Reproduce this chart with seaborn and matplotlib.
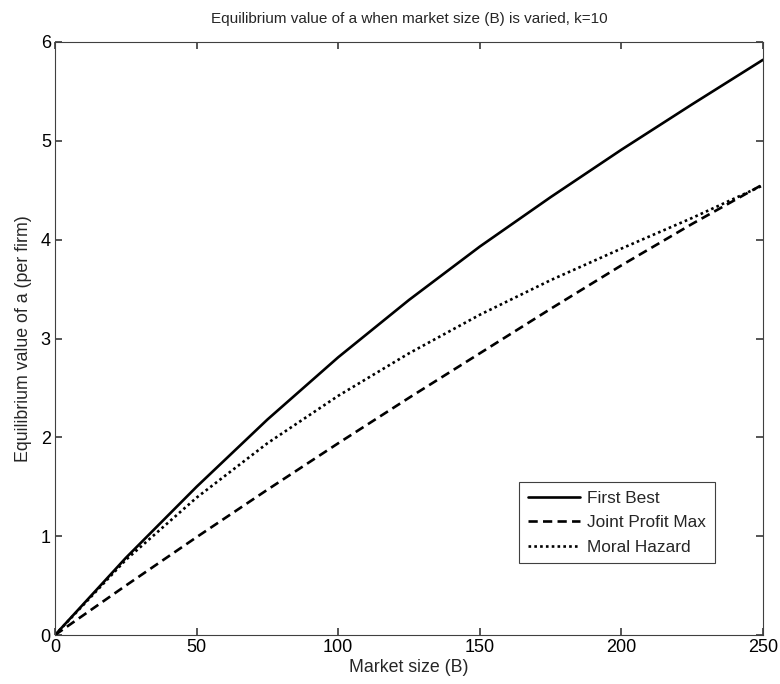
import matplotlib
matplotlib.use("Agg")
import matplotlib.pyplot as plt
import seaborn as sns
import pandas as pd
from matplotlib.lines import Line2D

market_size = [0, 25, 50, 75, 100, 125, 150, 175, 200, 225, 250]
first_best = [0.0, 0.78, 1.50, 2.18, 2.81, 3.39, 3.93, 4.43, 4.91, 5.37, 5.82]
joint_profit_max = [0.0, 0.50, 0.99, 1.47, 1.94, 2.40, 2.85, 3.30, 3.74, 4.16, 4.56]
moral_hazard = [0.0, 0.76, 1.39, 1.94, 2.42, 2.85, 3.24, 3.59, 3.91, 4.22, 4.55]

series_names = ["First Best", "Joint Profit Max", "Moral Hazard"]
x_ticks = [0, 50, 100, 150, 200, 250]
y_ticks = [0, 1, 2, 3, 4, 5, 6]

rows = []
for name, vals in zip(series_names, [first_best, joint_profit_max, moral_hazard]):
    for b, v in zip(market_size, vals):
        rows.append({"B": b, "a": v, "series": name})
df = pd.DataFrame(rows)

sns.set_theme(style="white")
plt.rcParams["font.family"] = ["Liberation Sans", "DejaVu Sans"]

fig = plt.figure(figsize=(7.8, 6.84), dpi=100)
ax = fig.add_axes([55 / 780, 49 / 684, 708 / 780, 593 / 684])

sns.lineplot(data=df, x="B", y="a", style="series", style_order=series_names,
             dashes={"First Best": "", "Joint Profit Max": (3.5, 2),
                     "Moral Hazard": (1, 1.2)},
             color="black", linewidth=1.9, ax=ax, legend=False, sort=False)

ax.set_xlim(0, 250)
ax.set_ylim(0, 6)
ax.set_xticks(x_ticks)
ax.set_yticks(y_ticks)
ax.set_xticklabels([str(t) for t in x_ticks])
ax.set_yticklabels([str(t) for t in y_ticks])

axis_col = "#404040"
for sp in ax.spines.values():
    sp.set_color(axis_col)
    sp.set_linewidth(0.8)
    sp.set_visible(True)
ax.tick_params(axis="both", which="both", direction="in", length=5,
               color=axis_col, labelsize=13, labelcolor="black",
               top=True, right=True, bottom=True, left=True, pad=3)

ax.set_xlabel("Market size (B)", fontsize=12.8, labelpad=2)
ax.set_ylabel("Equilibrium value of a (per firm)", fontsize=12.8, labelpad=6)
ax.set_title("Equilibrium value of a when market size (B) is varied, k=10",
             fontsize=11, pad=14)

handles = [
    Line2D([], [], color="black", linewidth=1.9, linestyle="-"),
    Line2D([], [], color="black", linewidth=1.9, linestyle=(0, (3.5, 2))),
    Line2D([], [], color="black", linewidth=1.9, linestyle=(0, (1, 1.2))),
]
leg = ax.legend(handles, series_names, loc="upper right",
                bbox_to_anchor=(0.932, 0.258), borderaxespad=0,
                fontsize=12.4, frameon=True,
                fancybox=False, edgecolor=axis_col, framealpha=1,
                handlelength=3.0, borderpad=0.5, labelspacing=0.55,
                handletextpad=0.45)
leg.get_frame().set_linewidth(0.8)

fig.savefig("out.png", dpi=100, facecolor="white")
